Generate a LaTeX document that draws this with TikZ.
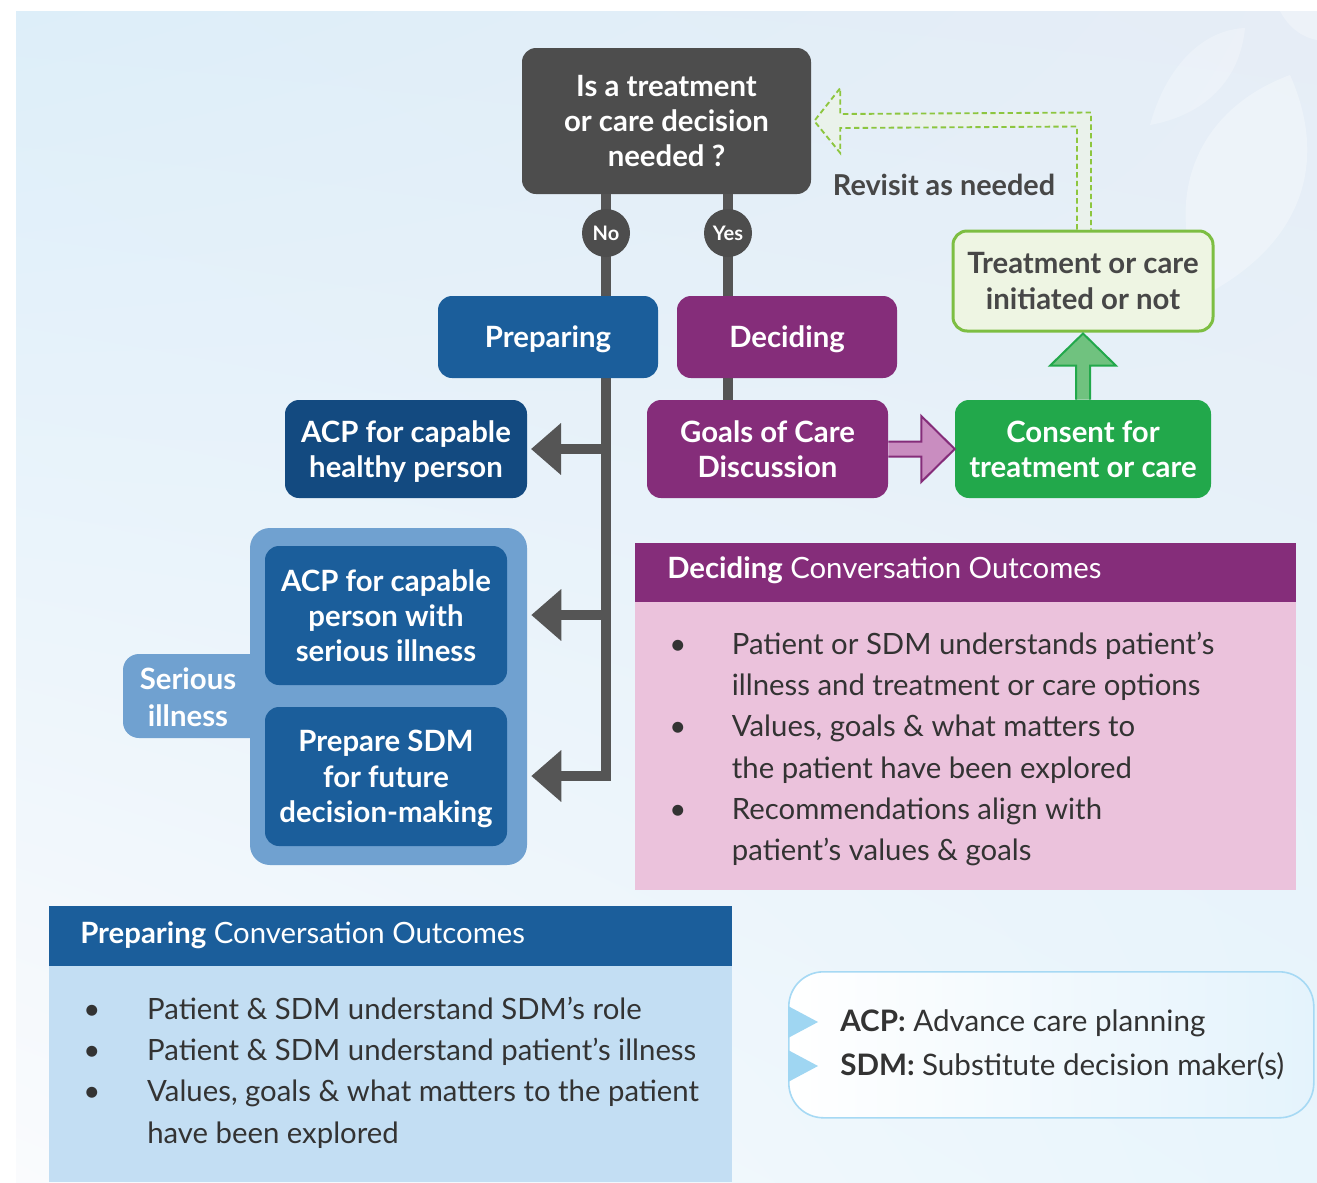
\documentclass[tikz,border=0pt]{standalone}
\usepackage{fontspec}
\setmainfont{Lato}
\usetikzlibrary{arrows.meta,calc,shadings}

\definecolor{bgA}{HTML}{DDEEF9}
\definecolor{bgB}{HTML}{E6EDF6}
\definecolor{bgC}{HTML}{FAFBFD}
\definecolor{bgD}{HTML}{E8F5FC}
\definecolor{grayBox}{HTML}{4D4D4D}
\definecolor{connGray}{HTML}{555555}
\definecolor{blueMid}{HTML}{1B5E9B}
\definecolor{blueDark}{HTML}{134A80}
\definecolor{blueGroup}{HTML}{70A1D0}
\definecolor{blueLight}{HTML}{C3DEF3}
\definecolor{plum}{HTML}{852D7A}
\definecolor{pinkBody}{HTML}{EBC2DC}
\definecolor{pinkArrow}{HTML}{C98DC0}
\definecolor{leafGreen}{HTML}{22A84B}
\definecolor{greenLight}{HTML}{EEF5E3}
\definecolor{greenBorder}{HTML}{7DBE42}
\definecolor{greenArrow}{HTML}{70C27F}
\definecolor{dashGreen}{HTML}{8DC63F}
\definecolor{legendLine}{HTML}{A6D9F4}
\definecolor{legendFill}{HTML}{E4F3FC}
\definecolor{legendTri}{HTML}{9FD6F2}
\definecolor{textDark}{HTML}{333333}
\definecolor{textGray}{HTML}{474747}

\begin{document}
\begin{tikzpicture}[
  x={(0.75pt,0)}, y={(0,-0.75pt)},
  box/.style={rounded corners=10.5pt, align=center, text=white, inner sep=0pt,
    text depth=0pt, font=\bfseries\fontsize{22}{26.5}\selectfont},
  conn/.style={draw=connGray, line width=7.5pt},
  branch/.style={conn, -{Triangle[length=22.5pt,width=37.5pt]}},
  badge/.style={circle, fill=grayBox, minimum size=36pt, inner sep=0pt, text=white,
    font=\bfseries\fontsize{15}{18}\selectfont},
  band/.style={anchor=north west, inner sep=0pt},
  listtext/.style={anchor=base west, inner sep=0pt, text=textDark,
    font=\fontsize{22}{31}\selectfont},
  headtext/.style={anchor=base west, inner sep=0pt, text=white,
    font=\fontsize{22}{26}\selectfont}
]
\useasboundingbox (0,0) rectangle (1317,1182);

% soft background
\shade[upper left=bgA, upper right=bgB, lower left=bgC, lower right=bgD]
  (16,11) rectangle (1317,1182);
\begin{scope}
  \clip (16,11) rectangle (1317,1182);
  \fill[white, opacity=0.3] (1205,295) .. controls (1160,200) and (1195,110) .. (1290,75)
     .. controls (1330,165) and (1300,245) .. (1205,295);
  \fill[white, opacity=0.25] (1150,125) .. controls (1165,70) and (1200,30) .. (1245,28)
     .. controls (1240,80) and (1205,115) .. (1150,125);
  \fill[white, opacity=0.3] (1280,11) .. controls (1290,30) and (1305,38) .. (1317,40)
     -- (1317,11) -- cycle;
\end{scope}

% decision question
\node[box, fill=grayBox, minimum width=216.75pt, minimum height=109.5pt] (dec) at (666.5,121)
  {Is a treatment\\or care decision\\needed ?};

% badge positions (drawn later, above the lines)
\coordinate (noc) at (606,233);
\coordinate (yesc) at (728,233);

% preparing side: groups first, so the connectors sit on top of them
\fill[blueGroup, rounded corners=12pt] (123,654) rectangle (275,738);
\node[fill=blueGroup, rounded corners=15pt, minimum width=207.75pt, minimum height=252.75pt,
  inner sep=0pt] (group) at (388.5,696.5) {};
\node[text=white, font=\bfseries\fontsize{22}{28}\selectfont, align=center, inner sep=0pt]
  (tab) at (188,697) {Serious\\illness};

% connectors
\draw[branch] (dec.south -| noc) |- ($(group.east |- 0,776)+(4,0)$);
\draw[branch] (noc |- 0,449) -- (531,449) coordinate (acpTip);
\draw[branch] (noc |- 0,615) -- ($(group.east |- 0,615)+(4,0)$);
\draw[conn] (dec.south -| yesc) -- (yesc |- 0,400);

% boxes
\node[box, fill=blueMid, minimum width=165pt, minimum height=61.5pt] (prep) at (548,337) {Preparing};
\node[box, fill=plum, minimum width=165pt, minimum height=61.5pt] (decid) at (787,337) {Deciding};
\node[box, fill=blueDark, minimum width=181.5pt, minimum height=73.5pt] (acp1) at (406,449)
  {ACP for capable\\healthy person};
\node[box, fill=plum, minimum width=180.75pt, minimum height=73.5pt] (goals) at (767.5,449)
  {Goals of Care\\Discussion};
\node[box, fill=leafGreen, minimum width=192pt, minimum height=73.5pt] (consent) at (1083,449)
  {Consent for\\treatment or care};
\node[box, fill=greenLight, draw=greenBorder, line width=2.25pt, text=textGray,
  minimum width=195pt, minimum height=75pt] (treat) at (1083,281)
  {Treatment or care\\initiated or not};
\node[box, fill=blueMid, minimum width=181.5pt, minimum height=104.25pt] (inner1) at (386,615.5)
  {ACP for capable\\person with\\serious illness};
\node[box, fill=blueMid, minimum width=181.5pt, minimum height=104.25pt] (inner2) at (386,776.5)
  {Prepare SDM\\for future\\decision-making};

% yes / no badges
\node[badge] (no) at (noc) {No};
\node[badge] (yes) at (yesc) {Yes};

% block arrow: goals -> consent
\filldraw[fill=pinkArrow, draw=plum, line width=1.5pt, line join=miter]
  ($(goals.east)+(0,-7.5)$) -- ++(33,0) -- ++(0,-25.5) -- (consent.west)
  -- ($(goals.east)+(33,33)$) -- ++(0,-25.5) -- ($(goals.east)+(0,7.5)$);

% block arrow: consent -> treatment outcome
\filldraw[fill=greenArrow, draw=leafGreen, line width=1.5pt, line join=miter]
  ($(consent.north)+(-7,0)$) -- ++(0,-34) -- ++(-26,0) -- ($(treat.south)+(0,1)$)
  -- ($(consent.north)+(33,-34)$) -- ++(-26,0) -- ($(consent.north)+(7,0)$);

% dashed return arrow
\filldraw[fill=greenLight, fill opacity=0.6, draw=dashGreen, line width=1.4pt,
  dash pattern=on 4pt off 2.5pt, line join=miter]
  ($(treat.north)+(-6,0)$) -- ($(treat.north)+(-6,-103)$) -- ($(dec.east)+(29,7)$)
  -- ($(dec.east)+(29,32)$) -- ($(dec.east)+(3,0)$) -- ($(dec.east)+(29,-33)$)
  -- ($(dec.east)+(29,-7)$) -- ($(treat.north)+(8,-117)$) -- ($(treat.north)+(8,0)$);
\node[text=textGray, font=\bfseries\fontsize{21.6}{25}\selectfont, inner sep=0pt]
  (revisit) at (944,185) {Revisit as needed};

% deciding outcomes panel
\node[band, fill=plum, minimum width=495.75pt, minimum height=44.25pt] (dhead) at (635,543) {};
\node[band, fill=pinkBody, minimum width=495.75pt, minimum height=216pt] (dbody) at (635,602) {};
\node[headtext] (dtitle) at (667,578) {\textbf{Deciding} Conversation Outcomes};
\node[listtext] (dlist) at (669,654) {\begin{tabular}[t]{@{}p{47pt}@{}l@{}}
  \textbullet & Patient or SDM understands patient’s\\
              & illness and treatment or care options\\
  \textbullet & Values, goals \& what matters to\\
              & the patient have been explored\\
  \textbullet & Recommendations align with\\
              & patient’s values \& goals
\end{tabular}};

% preparing outcomes panel
\node[band, fill=blueMid, minimum width=512.25pt, minimum height=45pt] (phead) at (49,906) {};
\node[band, fill=blueLight, minimum width=512.25pt, minimum height=162pt] (pbody) at (49,966) {};
\node[headtext] (ptitle) at (80,943) {\textbf{Preparing} Conversation Outcomes};
\node[listtext] (plist) at (83,1019) {\begin{tabular}[t]{@{}p{48pt}@{}l@{}}
  \textbullet & Patient \& SDM understand SDM’s role\\
  \textbullet & Patient \& SDM understand patient’s illness\\
  \textbullet & Values, goals \& what matters to the patient\\
              & have been explored
\end{tabular}};

% abbreviations
\node[band, draw=legendLine, line width=1.2pt, rounded corners=26pt, left color=white,
  right color=legendFill, minimum width=393.75pt, minimum height=109.5pt] (legend) at (788,971) {};
\fill[legendTri] (legend.west |- 0,1006) -- ++(30,16) -- ++(-30,16) -- cycle;
\fill[legendTri] (legend.west |- 0,1050) -- ++(30,16) -- ++(-30,16) -- cycle;
\node[anchor=base west, inner sep=0pt, text=textDark, font=\fontsize{22.2}{33}\selectfont]
  (abbr) at (840,1031) {\begin{tabular}[t]{@{}l@{}}
  \textbf{ACP:} Advance care planning\\
  \textbf{SDM:} Substitute decision maker(s)
\end{tabular}};
\end{tikzpicture}
\end{document}
